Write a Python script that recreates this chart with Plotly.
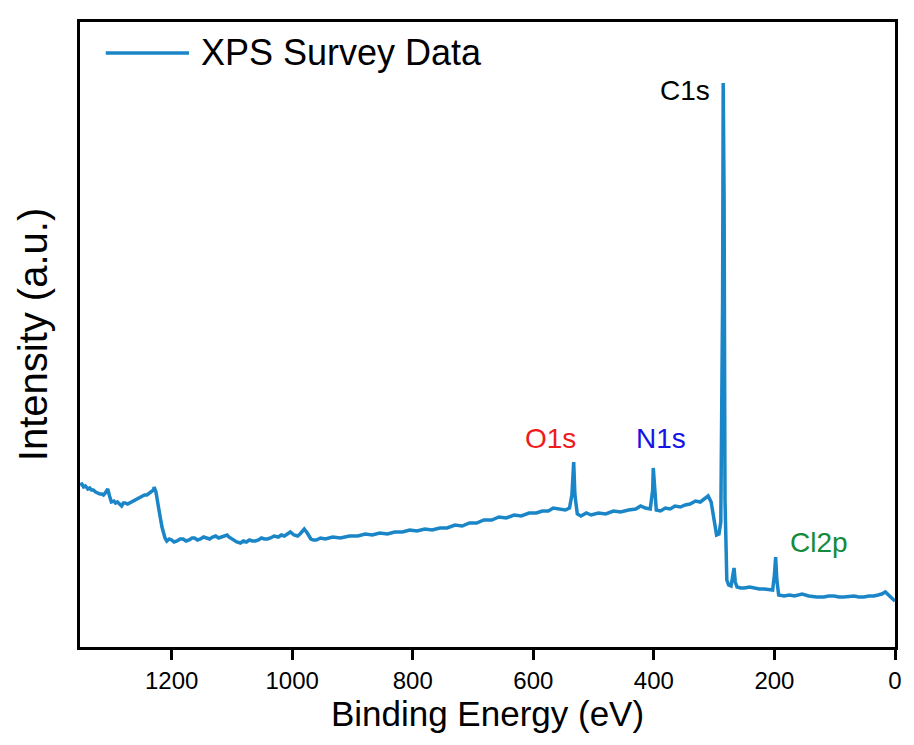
import plotly.graph_objects as go

# Binding energy (eV) and intensity (a.u.)
binding_energy = [
    1352, 1349, 1346, 1343, 1339, 1336, 1333, 1330, 1326, 1323, 1319, 1316, 1313, 1310,
    1306, 1303, 1300, 1296, 1293, 1290, 1287, 1283, 1280, 1277, 1273, 1270, 1266, 1262,
    1258, 1254, 1250, 1245, 1241, 1237, 1233, 1230, 1229, 1226, 1221, 1216, 1211, 1208,
    1204, 1200, 1196, 1191, 1186, 1181, 1176, 1171, 1166, 1162, 1157, 1152, 1147, 1142,
    1137, 1132, 1127, 1122, 1117, 1112, 1108, 1105, 1099, 1092, 1086, 1081, 1076, 1071,
    1066, 1061, 1056, 1051, 1046, 1041, 1036, 1030, 1023, 1018, 1013, 1008, 1003, 997,
    991, 987, 984, 980, 975, 969, 965, 960, 953, 945, 933, 920, 905, 891, 879, 867,
    855, 842, 830, 817, 805, 793, 780, 768, 755, 743, 730, 718, 706, 694, 682, 669,
    657, 645, 632, 620, 607, 595, 585, 575, 567, 560, 553, 547, 540, 536, 533, 531,
    527, 521, 512, 504, 492, 480, 467, 455, 442, 430, 422, 414, 406, 402, 401, 398,
    396, 389, 381, 373, 365, 356, 348, 340, 331, 323, 315, 310, 305, 300, 296, 292,
    289, 286, 285, 283.5, 282, 279, 276, 272, 269, 267, 265, 262, 256, 250, 241, 233,
    225, 217, 208, 203, 200, 198, 196, 193, 184, 175, 167, 160, 154, 143, 130, 118,
    110, 101, 93, 85, 76, 68, 60, 52, 43, 35, 28, 22, 16, 12, 9, 5, 2, 0,
]
intensity = [
    162, 163, 160, 161, 158, 159, 157, 157, 155, 154, 153, 153, 152, 154,
    158, 151, 145, 146, 144, 145, 143, 141, 144, 144, 143, 144, 145, 146,
    147, 149, 150, 152, 152, 154, 155, 157, 160, 155, 137, 120, 109, 106,
    108, 107, 105, 106, 108, 108, 106, 107, 109, 109, 107, 108, 110, 109,
    108, 110, 111, 109, 110, 111, 112, 110, 108, 105, 104, 106, 105, 107,
    106, 106, 107, 109, 108, 108, 109, 111, 110, 112, 111, 113, 115, 112,
    111, 113, 115, 118, 114, 108, 107, 107, 109, 108, 110, 109, 111, 111, 113, 112,
    114, 113, 115, 115, 117, 116, 118, 117, 119, 119, 122, 121, 124, 124, 127, 127,
    130, 129, 132, 131, 134, 134, 136, 136, 139, 138, 137, 137, 139, 152, 185, 152,
    133, 131, 134, 132, 134, 133, 136, 135, 137, 138, 141, 139, 138, 157, 179, 157,
    137, 136, 139, 138, 141, 140, 142, 143, 146, 145, 149, 151, 145, 127, 112, 113,
    125, 347, 564, 447, 147, 67, 62, 61, 72, 79, 65, 60, 59, 59, 60, 59,
    58, 58, 57, 57, 72, 90, 67, 52, 51, 52, 51, 52, 53, 51, 50, 50,
    51, 51, 50, 50, 51, 51, 50, 50, 51, 51, 52, 53, 55, 53, 51, 49, 47, 48,
]

peak_labels = ["C1s", "O1s", "N1s", "Cl2p"]
peak_label_x = [348, 572, 389, 126]
peak_label_y = [557, 209, 209, 105]
peak_label_colors = ["#000000", "#ee1c1c", "#1414e6", "#138a3c"]

x_ticks = [1200, 1000, 800, 600, 400, 200, 0]

FONT = "Arial, Liberation Sans, sans-serif"
LINE_COLOR = "#1a86c7"

fig = go.Figure()
fig.add_trace(go.Scatter(
    x=binding_energy, y=intensity, mode="lines",
    line=dict(color=LINE_COLOR, width=3.5),
    name="XPS Survey Data", showlegend=False,
))

for lab, lx, ly, lc in zip(peak_labels, peak_label_x, peak_label_y, peak_label_colors):
    fig.add_annotation(x=lx, y=ly, text=lab, showarrow=False,
                       font=dict(family=FONT, size=28, color=lc),
                       xanchor="center", yanchor="middle")

# manual legend
fig.add_shape(type="line", xref="paper", yref="paper",
              x0=0.0316, x1=0.1338, y0=0.9504, y1=0.9504,
              line=dict(color=LINE_COLOR, width=3.5))
fig.add_annotation(xref="paper", yref="paper", x=0.146, y=0.9504,
                   text="XPS Survey Data", showarrow=False,
                   xanchor="left", yanchor="middle",
                   font=dict(family=FONT, size=36, color="#000000"))

fig.update_layout(
    width=914, height=745,
    margin=dict(l=80, r=12, t=22, b=98),
    paper_bgcolor="white", plot_bgcolor="white",
    font=dict(family=FONT, color="#000000"),
)
fig.update_xaxes(
    range=[1352, 0], tickvals=x_ticks, ticktext=[str(t) for t in x_ticks],
    ticks="outside", ticklen=10, tickwidth=2.5, tickcolor="#000000",
    showline=True, linewidth=2.5, linecolor="#000000", mirror=True,
    showgrid=False, zeroline=False,
    tickfont=dict(family=FONT, size=24, color="#000000"),
    title=dict(text="Binding Energy (eV)", font=dict(family=FONT, size=35, color="#000000"), standoff=6),
)
fig.update_yaxes(
    range=[0, 625], showticklabels=False, ticks="",
    showline=True, linewidth=2.5, linecolor="#000000", mirror=True,
    showgrid=False, zeroline=False,
    title=dict(text="Intensity (a.u.)", font=dict(family=FONT, size=40, color="#000000"), standoff=18),
)

fig.write_html("out.html")
